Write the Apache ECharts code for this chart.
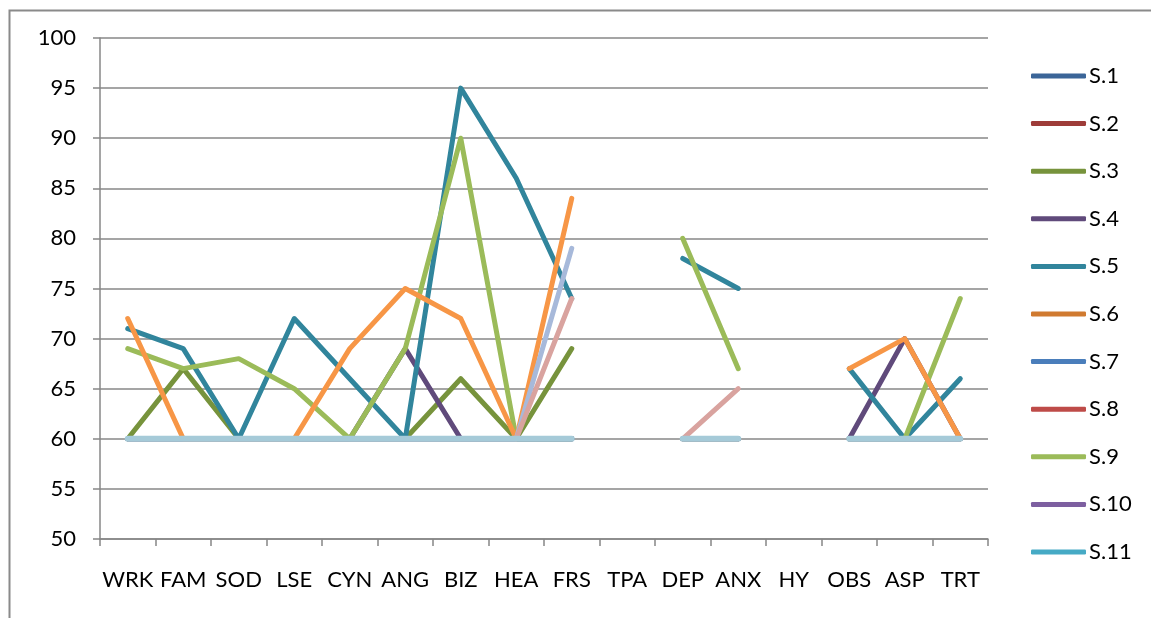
<!DOCTYPE html>
<html><head><meta charset="utf-8">
<script src="https://cdn.jsdelivr.net/npm/echarts@6/dist/echarts.min.js"></script>
<style>html,body{margin:0;padding:0;background:#fff}#c{width:1151px;height:618px}</style>
</head><body><div id="c"></div>
<script>
const categories = ['WRK','FAM','SOD','LSE','CYN','ANG','BIZ','HEA','FRS','TPA','DEP','ANX','HY','OBS','ASP','TRT'];
const yTicks = [50,55,60,65,70,75,80,85,90,95,100];
const legendNames = ['S.1','S.2','S.3','S.4','S.5','S.6','S.7','S.8','S.9','S.10','S.11'];

// series values (null = no value)
const s1  = [60,60,60,60,60,60,60,60,60,null,60,60,null,60,60,60];
const s2  = [60,60,60,60,60,60,60,60,60,null,60,60,null,60,60,60];
const s3  = [60,67,60,60,60,60,66,60,69,null,60,60,null,60,60,60];
const s4  = [60,60,60,60,60,69,60,60,60,null,60,60,null,60,70,60];
const s5  = [71,69,60,72,66,60,95,86,74,null,78,75,null,67,60,66];
const s6  = [60,60,60,60,60,60,60,60,60,null,60,60,null,60,60,60];
const s7  = [60,60,60,60,60,60,60,60,60,null,60,60,null,60,60,60];
const s8  = [60,60,60,60,60,60,60,60,60,null,60,60,null,60,60,60];
const s9  = [69,67,68,65,60,69,90,60,60,null,80,67,null,60,60,74];
const s10 = [60,60,60,60,60,60,60,60,60,null,60,60,null,60,60,60];
const s11 = [60,60,60,60,60,60,60,60,60,null,60,60,null,60,60,60];
const s12 = [72,60,60,60,69,75,72,60,84,null,60,60,null,67,70,60];
const s13 = [60,60,60,60,60,60,60,60,79,null,60,60,null,60,60,60];
const s14 = [60,60,60,60,60,60,60,60,74,null,60,65,null,60,60,60];
const s15 = [60,60,60,60,60,60,60,60,60,null,60,60,null,60,60,60];

const seriesDefs = [
  ['S.1', s1, '#3b6598'],
  ['S.2', s2, '#9e3c39'],
  ['S.3', s3, '#77933c'],
  ['S.4', s4, '#604a7b'],
  ['S.5', s5, '#31859c'],
  ['S.6', s6, '#d07a30'],
  ['S.7', s7, '#4a7ebb'],
  ['S.8', s8, '#be4b48'],
  ['S.9', s9, '#9bbb59'],
  ['S.10', s10, '#7d5fa0'],
  ['S.11', s11, '#46aac5'],
  ['S.12', s12, '#f79646'],
  ['S.13', s13, '#a7b9da'],
  ['S.14', s14, '#d9a39f'],
  ['S.15', s15, '#a5cad8']
];

const font = 'Lato';
const chart = echarts.init(document.getElementById('c'), null, {renderer:'canvas'});
chart.setOption({
  animation: false,
  backgroundColor: '#fff',
  graphic: [{
    type: 'rect', left: 7, top: 8, silent: true,
    shape: {width: 1300, height: 800},
    style: {fill: 'none', stroke: '#8a8a8a', lineWidth: 2}
  }],
  grid: {left: 100, right: 163, top: 38, bottom: 79, containLabel: false},
  legend: {
    orient: 'vertical', left: 1026, top: 59,
    data: legendNames,
    icon: 'roundRect', itemWidth: 55, itemHeight: 5, itemGap: 23.6,
    textStyle: {fontFamily: font, fontSize: 22, lineHeight: 24, color: '#000', padding: [0,0,0,-2]}
  },
  xAxis: {
    type: 'category', data: categories, boundaryGap: true,
    axisLine: {lineStyle: {color: '#878787', width: 1.5}},
    axisTick: {show: true, length: 7, lineStyle: {color: '#878787', width: 1.5}},
    axisLabel: {interval: 0, margin: 30, fontFamily: font, fontSize: 22, color: '#000'},
    splitLine: {show: false}
  },
  yAxis: {
    type: 'value', min: yTicks[0], max: yTicks[yTicks.length-1], interval: 5,
    axisLine: {show: true, lineStyle: {color: '#878787', width: 1.5}},
    axisTick: {show: true, length: 7, lineStyle: {color: '#878787', width: 1.5}},
    axisLabel: {margin: 24, fontFamily: font, fontSize: 22, color: '#000'},
    splitLine: {show: true, lineStyle: {color: '#878787', width: 1.5}}
  },
  series: seriesDefs.map(([name, data, color], i) => ({
    name, type: 'line', data, color,
    showSymbol: false, symbol: 'none', connectNulls: false,
    lineStyle: {color, width: name === 'S.15' ? 6 : 5, cap: 'round', join: 'round'},
    z: 2 + i * 0.01
  }))
});
</script></body></html>
